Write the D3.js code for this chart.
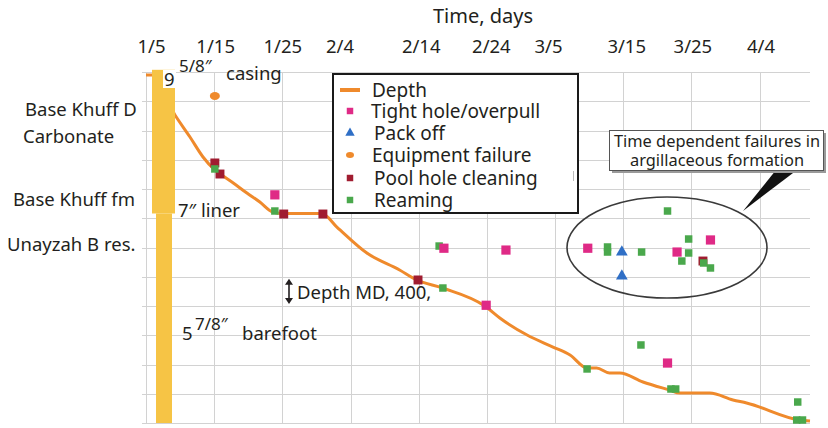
<!DOCTYPE html>
<html>
<head>
<meta charset="utf-8">
<script src="https://cdn.jsdelivr.net/npm/d3@7"></script>
<style>
  body { margin: 0; background: #fff; }
  svg text { font-family: 'Noto Sans', sans-serif; fill: #231f20; }
</style>
</head>
<body>
<svg width="828" height="428"></svg>
<script>
// days counted from 1/5, depth in ft (one grid row = 400 ft)
const tickDays = [0, 10, 20, 30, 40, 50, 60, 70, 80, 90];
const tickLabels = ['1/5', '1/15', '1/25', '2/4', '2/14', '2/24', '3/5', '3/15', '3/25', '4/4'];
const tickNudge = [5, 1, 0, -11, 2, 4, -7, 3, 1, 1];
const depthGrid = d3.range(0, 4801, 400);

const depthCurve = [
  [0, 40], [0.9, 40], [4.25, 588], [6.45, 889], [8.36, 1162], [10.1, 1340], [11.1, 1409],
  [12.8, 1518], [14.8, 1655], [16.7, 1778], [18.6, 1915], [20.1, 1935], [25.8, 1935],
  [28.0, 2120], [32.4, 2475], [37.2, 2708], [39.7, 2844], [43.5, 2954], [49.7, 3200],
  [51.9, 3364], [55.9, 3597], [59.7, 3761], [62.2, 3870], [64.7, 4048], [66.1, 4048],
  [68.0, 4116], [69.5, 4116], [72.9, 4239], [76.8, 4349], [78.3, 4390], [82.7, 4390],
  [86.1, 4485], [88.1, 4526], [95.9, 4759], [97.4, 4773]
];
const tightHole = [
  [18.9, 1680], [43.7, 2410], [52.8, 2435], [49.9, 3190], [64.8, 2410],
  [77.9, 2462], [82.8, 2297], [76.5, 3980]
];
const packOff = [[69.8, 2462], [69.8, 2790]];
const equipmentFailure = [[10.1, 328]];
const poorCleaning = [
  [10.1, 1244], [10.85, 1395], [20.2, 1942], [25.95, 1942], [39.9, 2844], [81.7, 2585]
];
const reaming = [
  [10.1, 1326], [18.9, 1901], [43.0, 2380], [43.55, 2954], [76.5, 1901], [67.7, 2393],
  [67.7, 2462], [72.7, 2462], [79.6, 2284], [79.6, 2475], [78.6, 2585], [81.8, 2612],
  [82.8, 2680], [72.6, 3733], [64.7, 4061], [77.0, 4335], [77.7, 4335], [95.6, 4513],
  [95.45, 4759], [96.3, 4759]
];
// casing string intervals, ft
const casingUpper = [-30, 1935];
const casingLower = [1935, 4800];

const svg = d3.select('svg');
const orange = '#ef8a2c';
const fs = 18.5;

const x = d3.scaleLinear().domain([0, 97.4]).range([146, 810]);
const y = d3.scaleLinear().domain([0, 4800]).range([72, 423]);

// grid
const grid = svg.append('g').attr('stroke', '#d2d2d2').attr('stroke-width', 1);
grid.selectAll('line.h').data(depthGrid).join('line')
  .attr('class', 'h')
  .attr('x1', 142).attr('x2', x.range()[1])
  .attr('y1', d => Math.round(y(d)) + 0.5).attr('y2', d => Math.round(y(d)) + 0.5);
grid.selectAll('line.v').data(tickDays).join('line')
  .attr('class', 'v')
  .attr('x1', d => Math.round(x(d)) + 0.5).attr('x2', d => Math.round(x(d)) + 0.5)
  .attr('y1', y.range()[0]).attr('y2', y.range()[1]);

// top axis
const xAxis = d3.axisTop(x)
  .tickValues(tickDays)
  .tickFormat((d, i) => tickLabels[i])
  .tickSize(0)
  .tickPadding(0);
const axisG = svg.append('g')
  .attr('transform', 'translate(0,53)')
  .call(xAxis);
axisG.select('.domain').remove();
axisG.selectAll('text')
  .attr('font-size', fs)
  .attr('font-family', "'Noto Sans', sans-serif")
  .attr('fill', '#231f20')
  .attr('dx', (d, i) => tickNudge[i]);

svg.append('text')
  .attr('x', 483).attr('y', 23)
  .attr('text-anchor', 'middle')
  .attr('font-size', 20)
  .text('Time, days');

// depth line
svg.append('path')
  .datum(depthCurve)
  .attr('fill', 'none')
  .attr('stroke', orange)
  .attr('stroke-width', 3)
  .attr('stroke-linejoin', 'round')
  .attr('d', d3.line().x(d => x(d[0])).y(d => y(d[1])).curve(d3.curveMonotoneX));

// casing bar
svg.append('rect')
  .attr('x', 152).attr('width', 23)
  .attr('y', y(casingUpper[0])).attr('height', y(casingUpper[1]) - y(casingUpper[0]))
  .attr('fill', '#f6c445');
svg.append('rect')
  .attr('x', 156).attr('width', 16)
  .attr('y', y(casingLower[0])).attr('height', y(casingLower[1]) - y(casingLower[0]))
  .attr('fill', '#f6c445');

// markers
const sym = (type, size) => d3.symbol().type(type).size(size)();
const drawPoints = (data, path, color) => {
  svg.append('g').selectAll('path').data(data).join('path')
    .attr('transform', d => `translate(${x(d[0])},${y(d[1])})`)
    .attr('d', path)
    .attr('fill', color);
};
drawPoints(poorCleaning, sym(d3.symbolSquare, 80), '#a01c30');
drawPoints(reaming, sym(d3.symbolSquare, 56), '#4aa84c');
drawPoints(tightHole, sym(d3.symbolSquare, 85), '#df2a86');
drawPoints(packOff, sym(d3.symbolTriangle, 60), '#2f6fc6');
drawPoints(equipmentFailure, 'M-5,0 A5,4 0 1,0 5,0 A5,4 0 1,0 -5,0', orange);

// left formation labels
const leftLabels = svg.append('g').attr('font-size', fs);
leftLabels.append('text').attr('x', 25).attr('y', 116).text('Base Khuff D');
leftLabels.append('text').attr('x', 23).attr('y', 143).text('Carbonate');
leftLabels.append('text').attr('x', 13).attr('y', 206).text('Base Khuff fm');
leftLabels.append('text').attr('x', 7).attr('y', 251).text('Unayzah B res.');

// casing annotations
svg.append('rect').attr('x', 163).attr('y', 70).attr('width', 13).attr('height', 18).attr('fill', '#fff');
svg.append('text').attr('x', 164).attr('y', 86).attr('font-size', fs).text('9');
svg.append('text').attr('x', 179).attr('y', 72).attr('font-size', 17).text('5/8″');
svg.append('text').attr('x', 226).attr('y', 80).attr('font-size', fs).text('casing');
svg.append('text').attr('x', 178).attr('y', 217).attr('font-size', fs).text('7″ liner');
svg.append('text').attr('x', 182).attr('y', 340).attr('font-size', fs).text('5');
svg.append('text').attr('x', 195).attr('y', 330).attr('font-size', 17).text('7/8″');
svg.append('text').attr('x', 242).attr('y', 340).attr('font-size', fs).text('barefoot');

// depth scale arrow
const arrowX = 289;
const ay0 = y(depthGrid[7]) + 2, ay1 = y(depthGrid[8]) - 2;
svg.append('line').attr('x1', arrowX).attr('x2', arrowX).attr('y1', ay0 + 4).attr('y2', ay1 - 4)
  .attr('stroke', '#231f20').attr('stroke-width', 1.6);
svg.append('path').attr('fill', '#231f20')
  .attr('d', `M${arrowX - 4},${ay0 + 6}L${arrowX},${ay0}L${arrowX + 4},${ay0 + 6}Z M${arrowX - 4},${ay1 - 6}L${arrowX},${ay1}L${arrowX + 4},${ay1 - 6}Z`);
svg.append('text').attr('x', 297).attr('y', 299).attr('font-size', fs).text('Depth MD, 400,');

// legend
const legend = svg.append('g');
legend.append('rect')
  .attr('x', 333).attr('y', 74).attr('width', 245).attr('height', 139)
  .attr('fill', '#fff').attr('stroke', '#1a1a1a').attr('stroke-width', 2);
legend.append('line').attr('x1', 573.5).attr('x2', 573.5).attr('y1', 171).attr('y2', 181)
  .attr('stroke', '#bbb').attr('stroke-width', 1);
const legendItems = [
  { label: 'Depth', kind: 'line', color: orange, y: 90, tx: 372 },
  { label: 'Tight hole/overpull', kind: 'square', color: '#df2a86', y: 111, tx: 371 },
  { label: 'Pack off', kind: 'triangle', color: '#2f6fc6', y: 133, tx: 374 },
  { label: 'Equipment failure', kind: 'circle', color: orange, y: 155, tx: 372 },
  { label: 'Pool hole cleaning', kind: 'square', color: '#a01c30', y: 178, tx: 374 },
  { label: 'Reaming', kind: 'square', color: '#4aa84c', y: 200, tx: 374 }
];
legendItems.forEach(it => {
  if (it.kind === 'line') {
    legend.append('rect').attr('x', 340).attr('y', it.y - 2).attr('width', 20).attr('height', 4)
      .attr('fill', it.color);
  } else {
    const p = it.kind === 'square' ? sym(d3.symbolSquare, 42)
      : it.kind === 'triangle' ? sym(d3.symbolTriangle, 38)
      : 'M-4,0 A4,3 0 1,0 4,0 A4,3 0 1,0 -4,0';
    legend.append('path').attr('transform', `translate(350,${it.y})`).attr('d', p).attr('fill', it.color);
  }
  legend.append('text').attr('x', it.tx).attr('y', it.y + 6.5).attr('font-size', 19).text(it.label);
});

// ellipse around time dependent failures
svg.append('ellipse')
  .attr('cx', 667).attr('cy', 247.5).attr('rx', 100).attr('ry', 50.5)
  .attr('fill', 'none').attr('stroke', '#3a3a3a').attr('stroke-width', 1.6);

// callout
svg.append('path').attr('fill', '#111')
  .attr('d', 'M776,170L797,170L743,211Z');
svg.append('rect').attr('x', 612).attr('y', 133).attr('width', 214).attr('height', 40).attr('fill', '#9a9a9a');
svg.append('rect').attr('x', 609.5).attr('y', 130.5).attr('width', 214).attr('height', 40)
  .attr('fill', '#fff').attr('stroke', '#555').attr('stroke-width', 1);
svg.append('text').attr('x', 717).attr('y', 147).attr('text-anchor', 'middle').attr('font-size', 16.4)
  .text('Time dependent failures in');
svg.append('text').attr('x', 717).attr('y', 166).attr('text-anchor', 'middle').attr('font-size', 16.4)
  .text('argillaceous formation');
</script>
</body>
</html>
